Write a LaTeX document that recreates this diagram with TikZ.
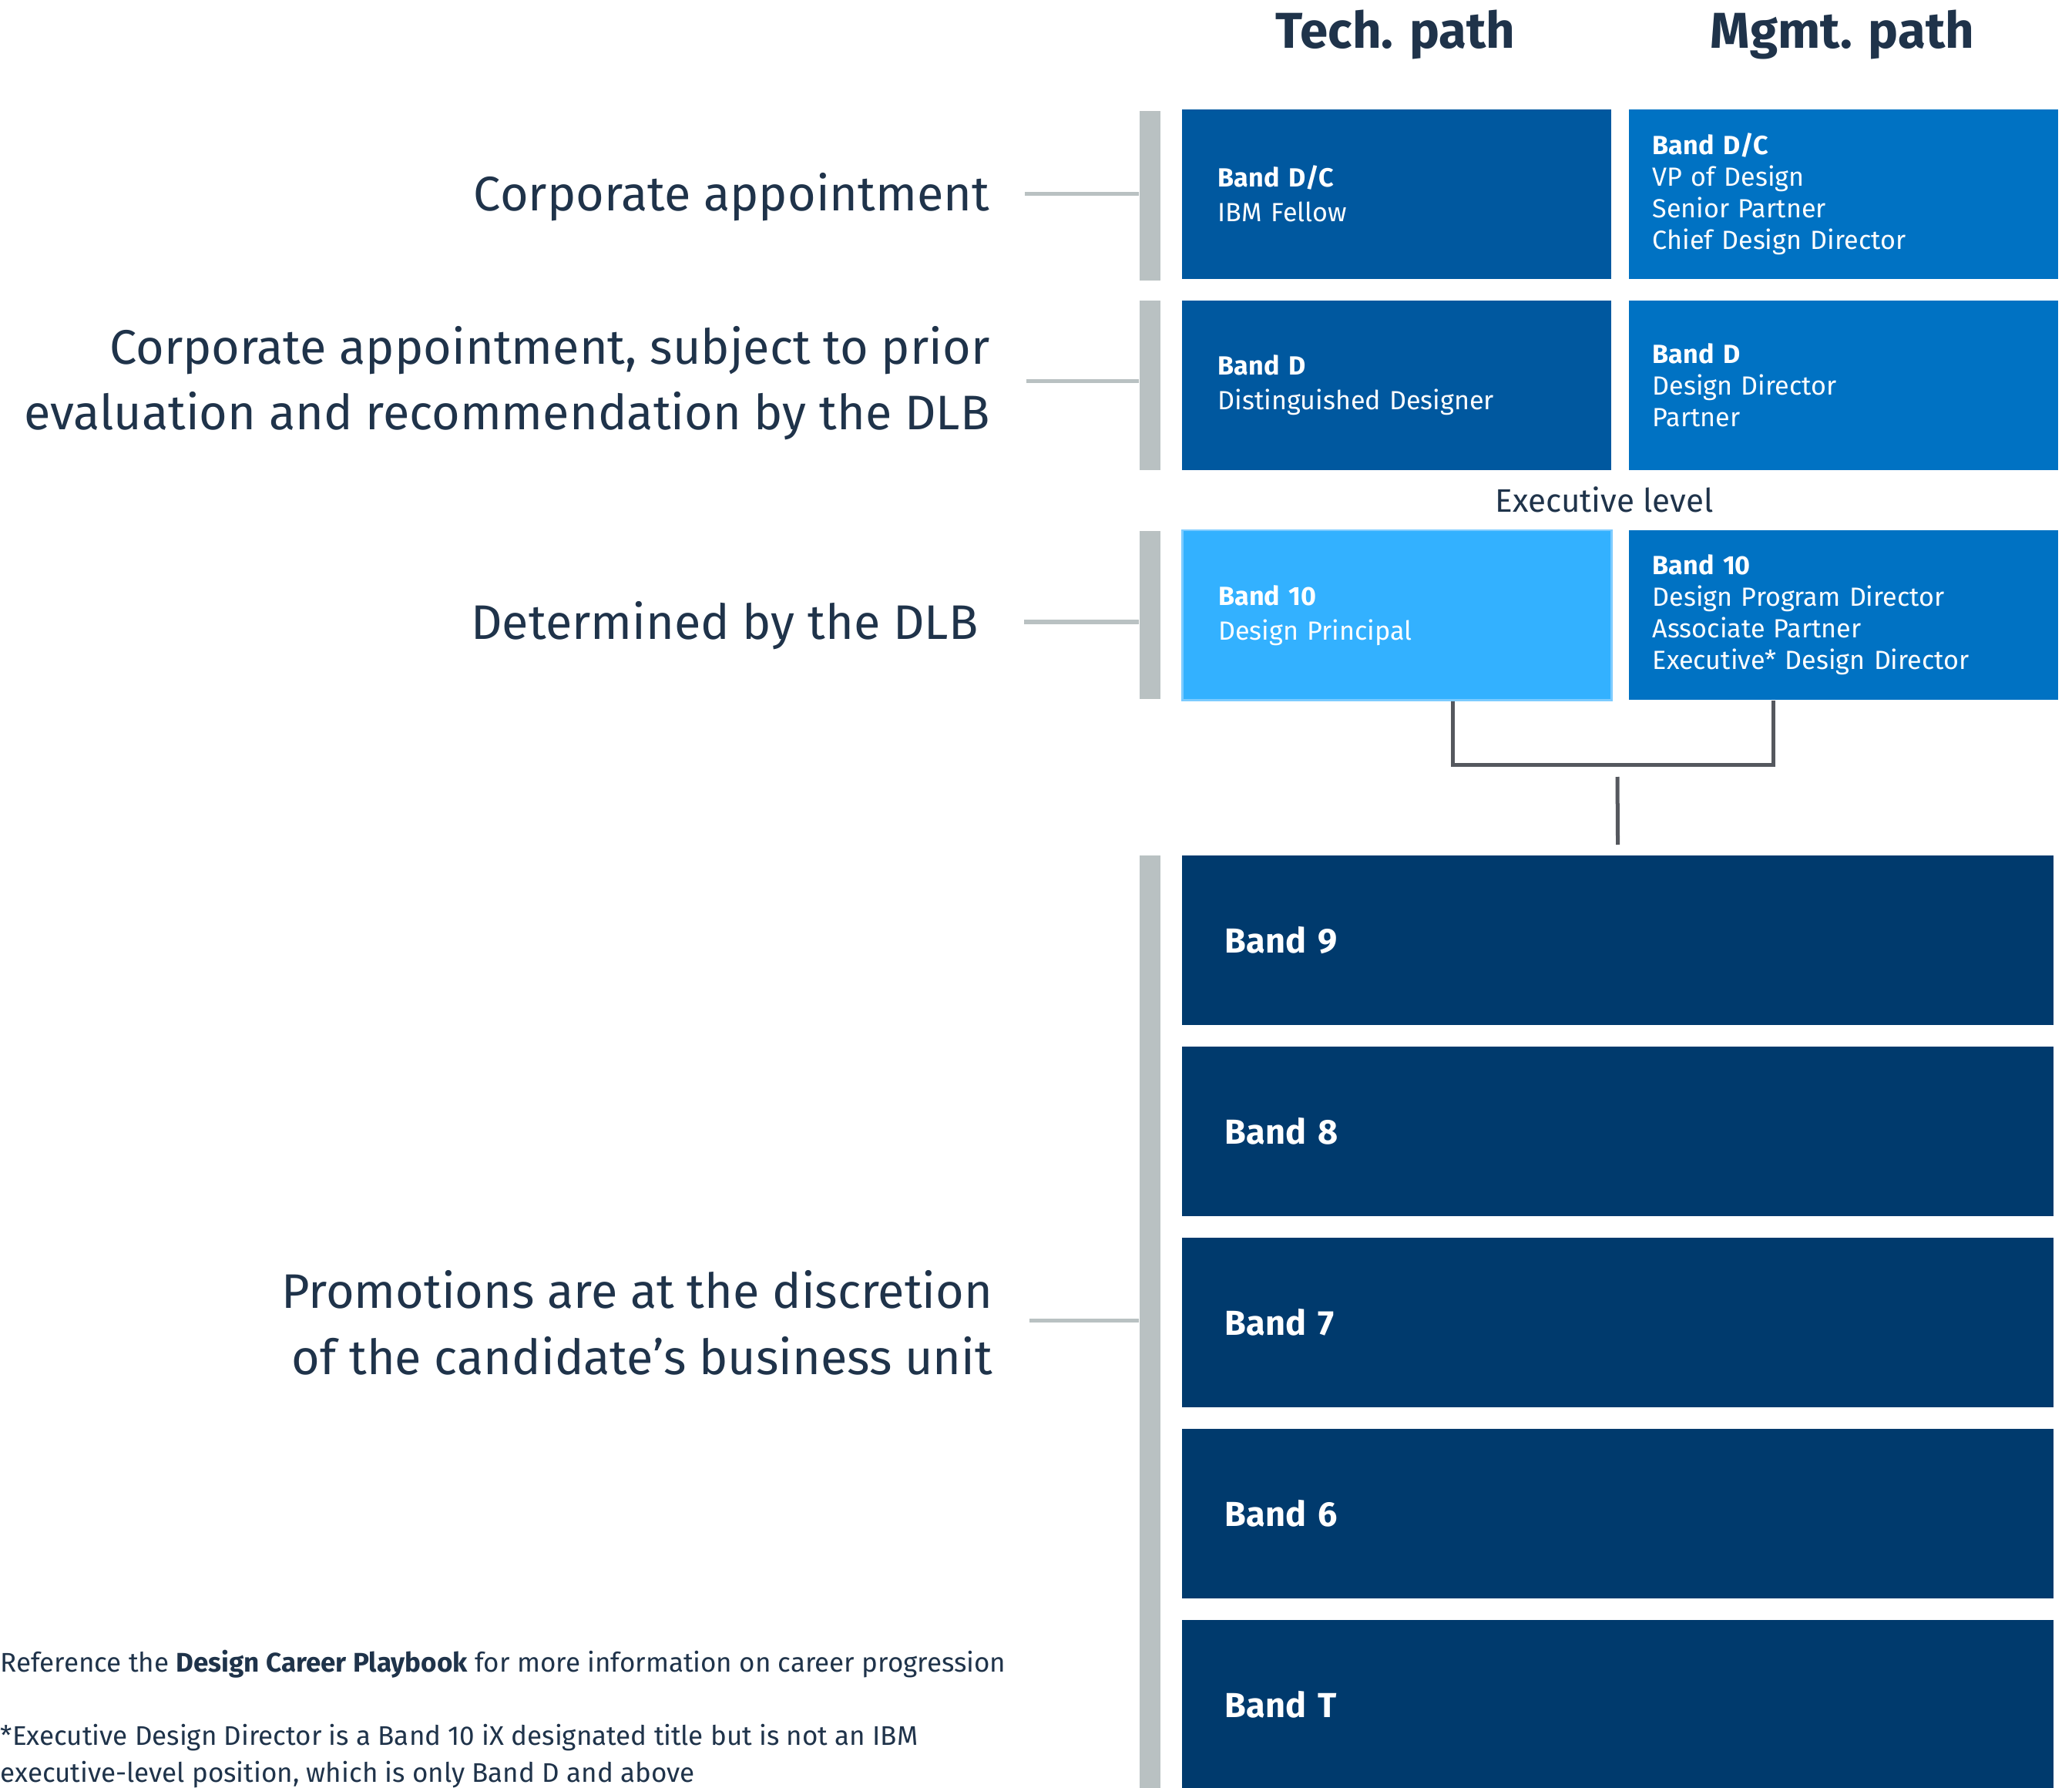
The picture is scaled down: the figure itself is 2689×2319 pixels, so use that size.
\documentclass[tikz,border=0pt]{standalone}
\usepackage{fontspec}
\setmainfont{Fira Sans}
\usetikzlibrary{positioning}

\definecolor{ink}{HTML}{1F334A}
\definecolor{techblue}{HTML}{00589F}
\definecolor{mgmtblue}{HTML}{0072C3}
\definecolor{lightblue}{HTML}{33B1FF}
\definecolor{lightedge}{HTML}{7CCBFF}
\definecolor{bandblue}{HTML}{003A6D}
\definecolor{bargray}{HTML}{B9C1C2}
\definecolor{linkgray}{HTML}{55585E}

\tikzset{
  lbl/.style={inner sep=0pt, text=ink, align=right, font=\fontsize{17.9pt}{24.2pt}\selectfont},
  head/.style={inner sep=0pt, text=ink, font=\fontsize{18.6pt}{22pt}\selectfont\bfseries},
  note/.style={inner sep=0pt, text=ink, align=left, font=\fontsize{9.95pt}{13.4pt}\selectfont},
  bar/.style={anchor=north west, fill=bargray, minimum width=0.27cm, inner sep=0pt},
  tick/.style={draw=bargray, line width=0.05cm},
  techbox/.style={anchor=north west, fill=techblue, text=white, minimum width=5.57cm,
    minimum height=2.2cm, inner xsep=0.47cm, inner ysep=0pt, text width=4.63cm, align=left,
    font=\fontsize{9.7pt}{12.8pt}\selectfont},
  mgmtbox/.style={techbox, fill=mgmtblue, inner xsep=0.31cm, text width=4.95cm,
    font=\fontsize{9.7pt}{11.7pt}\selectfont},
  band/.style={anchor=north west, fill=bandblue, text=white, minimum width=11.31cm,
    minimum height=2.2cm, inner xsep=0.56cm, inner ysep=0pt, text width=10.19cm, align=left,
    font=\fontsize{12.8pt}{15pt}\selectfont\bfseries},
  link/.style={draw=linkgray, line width=0.05cm},
}

\begin{document}
\begin{tikzpicture}[x=0.01cm, y=-0.01cm]
\useasboundingbox (0,0) rectangle (2689,2319);
	%column heads
	\node[head, anchor=base] (techhead) at (1811,63) {Tech. path};
	\node[head, anchor=base] (mgmthead) at (2391,63) {Mgmt. path};

	%executive boxes
	\node[techbox] (techdc) at (1533,141) {\textbf{Band D/C}\\IBM Fellow};
	\node[mgmtbox] (mgmtdc) at (2113,141)
		{\textbf{Band D/C}\\VP of Design\\Senior Partner\\Chief Design Director};
	\node[techbox] (techd) at (1533,389) {\textbf{Band D}\\Distinguished Designer};
	\node[mgmtbox] (mgmtd) at (2113,389) {\textbf{Band D}\\Design Director\\Partner};
	\node[inner sep=0pt, text=ink, anchor=base, font=\fontsize{12pt}{14pt}\selectfont]
		(execlevel) at (2082,665) {Executive level};
	\node[techbox, fill=lightblue, draw=lightedge, line width=0.025cm] (tech10) at (1533,687)
		{\textbf{Band 10}\\Design Principal};
	\node[mgmtbox] (mgmt10) at (2113,687)
		{\textbf{Band 10}\\Design Program Director\\Associate Partner\\Executive* Design Director};

	%bands
	\foreach \b [count=\i from 0] in {9,8,7,6,T}
		\node[band] (band\b) at (1533,1109+\i*248) {Band \b};

	%bars
	\node[bar, minimum height=2.2cm] (bar1) at (1478,143) {};
	\node[bar, minimum height=2.2cm] (bar2) at (1478,389) {};
	\node[bar, minimum height=2.18cm] (bar3) at (1478,688) {};
	\node[bar, minimum height=12.3cm] (bar4) at (1478,1109) {};

	%labels (base = last line)
	\node[lbl, anchor=base east] (lbl1) at (1285,274) {Corporate appointment};
	\node[lbl, anchor=base east] (lbl2) at (1285,558)
		{Corporate appointment, subject to prior\\evaluation and recommendation by the DLB};
	\node[lbl, anchor=base east] (lbl3) at (1270,829) {Determined by the DLB};
	\node[lbl, anchor=base east] (lbl4) at (1289,1783)
		{Promotions are at the discretion\\of the candidate's business unit};
	\coordinate (t1) at (1330,252);
	\coordinate (t2) at (1332,495);
	\coordinate (t3) at (1329,807);
	\coordinate (t4) at (1336,1713);
	\draw[tick] (t1) -- (t1 -| bar1.west);
	\draw[tick] (t2) -- (t2 -| bar2.west);
	\draw[tick] (t3) -- (t3 -| bar3.west);
	\draw[tick] (t4) -- (t4 -| bar4.west);

	%bracket
	\coordinate (join) at (2092,992);
	\draw[link] ([xshift=0.73cm]tech10.south) |- (join) -| ([xshift=-0.91cm]mgmt10.south);
	\coordinate (split) at (2099,1008);
	\draw[link] (split) -- ([yshift=0.13cm]band9.north);

	%notes
	\node[note, anchor=base west] (ref) at (0,2169)
		{Reference the \textbf{Design Career Playbook} for more information on career progression};
	\node[note, anchor=base west] (star) at (0,2312)
		{*Executive Design Director is a Band 10 iX designated title but is not an IBM\\executive-level position, which is only Band D and above};
\end{tikzpicture}
\end{document}
